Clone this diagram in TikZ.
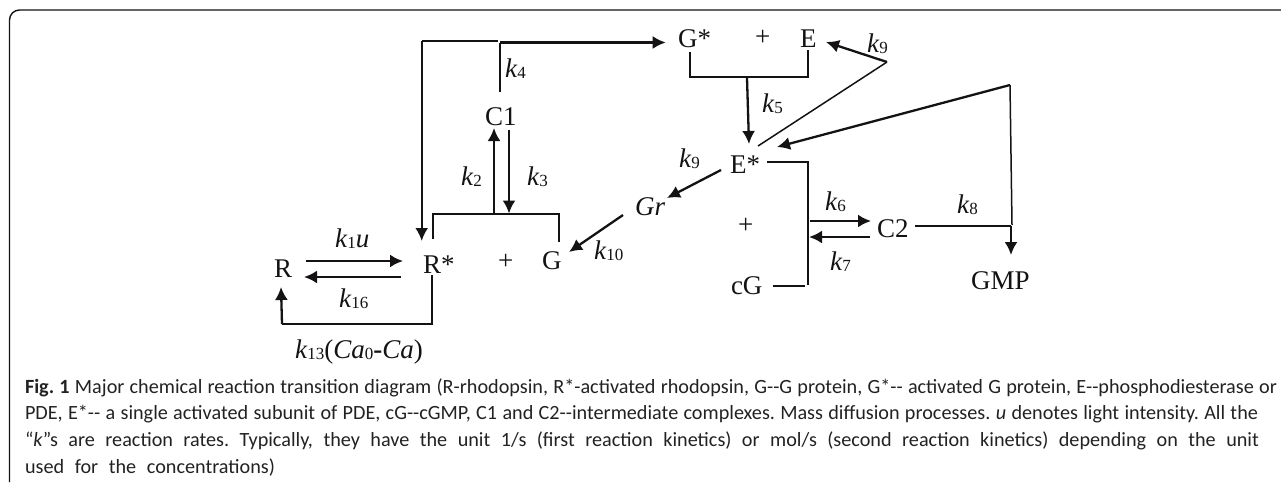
\documentclass[tikz,border=0pt]{standalone}
\usepackage{fontspec}
\setmainfont{Liberation Serif}
\newfontfamily\capf{Carlito}
\usetikzlibrary{arrows.meta}
\definecolor{ink}{HTML}{141213}
\definecolor{captxt}{HTML}{232122}
\newcommand{\subf}[1]{{\fontsize{17}{17}\selectfont\raisebox{-1.5pt}{#1}}}
\newcommand{\kk}[1]{\textit{k}\subf{#1}}
\frenchspacing
\tikzset{
  x=1pt,y=-1pt,
  lbl/.style={inner sep=0pt,outer sep=0pt,anchor=base west,text=ink,font=\fontsize{27}{27}\selectfont},
  capline/.style={inner sep=0pt,outer sep=0pt,anchor=base west,text=captxt,font=\capf\fontsize{20.2}{20.2}\selectfont},
  thin line/.style={draw=ink,line width=1.5pt},
  thick line/.style={draw=ink,line width=2pt},
  arrowline/.style={draw=ink,line width=2.3pt,-{Latex[length=13pt,width=13pt]}},
  frame line/.style={draw=ink,line width=1.4pt,rounded corners=10pt},
}
\begin{document}
\begin{tikzpicture}
\useasboundingbox (0,0) rectangle (1281,483);
% frame
\coordinate (fbl) at (9.5,482);
\coordinate (ftl) at (9.5,10);
\coordinate (ftr) at (1281,10);
\draw[frame line] (fbl) -- (ftl) -- (ftr);
% species
\node[lbl] (R) at (274,277) {R};
\node[lbl] (Rs) at (423,273) {R*};
\node[lbl] (plusA) at (498,269) {+};
\node[lbl] (G) at (542,269) {G};
\node[lbl] (Gr) at (635,215) {\textit{Gr}};
\node[lbl] (Es) at (730,173) {E*};
\node[lbl] (plusB) at (738,233) {+};
\node[lbl] (cG) at (731,294) {cG};
\node[lbl] (C2) at (877,237) {C2};
\node[lbl] (GMP) at (971,289) {GMP};
\node[lbl] (Gs) at (678,47) {G*};
\node[lbl] (plusC) at (755,45) {+};
\node[lbl] (E) at (800,47) {E};
\node[lbl] (C1) at (485,125) {C1};
% rates
\node[lbl] (k4) at (505,77) {\kk{4}};
\node[lbl] (k2) at (461,185) {\kk{2}};
\node[lbl] (k3) at (527,185) {\kk{3}};
\node[lbl] (k1u) at (335,247) {\kk{1}\textit{u}};
\node[lbl] (k16) at (339,307) {\kk{16}};
\node[lbl] (k13) at (295,358) {\kk{13}(\textit{Ca}\subf{0}\textbf{-}\textit{Ca})};
\node[lbl] (k10) at (594,259) {\kk{10}};
\node[lbl] (k9a) at (679,167) {\kk{9}};
\node[lbl] (k9b) at (867,52) {\kk{9}};
\node[lbl] (k5) at (762,112) {\kk{5}};
\node[lbl] (k6) at (825,210) {\kk{6}};
\node[lbl] (k7) at (830,270) {\kk{7}};
\node[lbl] (k8) at (957,213) {\kk{8}};
% connector anchors
\coordinate (a1) at (421.7,40.7);
\coordinate (a2) at (498,40.7);
\coordinate (a3) at (421.7,241);
\coordinate (b1) at (500,92);
\coordinate (b2) at (500,42.5);
\coordinate (b3) at (665.7,42.5);
\coordinate (c1) at (494,213);
\coordinate (c2) at (494,128);
\coordinate (d1) at (509,130);
\coordinate (d2) at (509,213.5);
\coordinate (e1) at (433,239);
\coordinate (e2) at (433,214);
\coordinate (e3) at (559,214);
\coordinate (e4) at (559,242);
\coordinate (f1) at (432,275);
\coordinate (f2) at (432,324);
\coordinate (f3) at (282,324);
\coordinate (f4) at (281,287);
\coordinate (g1) at (306,261);
\coordinate (g2) at (403,261);
\coordinate (h1) at (401,277);
\coordinate (h2) at (304,277);
\coordinate (i1) at (623,215);
\coordinate (i2) at (569,252);
\coordinate (j1) at (721,170);
\coordinate (j2) at (667,198);
\coordinate (l1) at (690,52);
\coordinate (l2) at (690,77);
\coordinate (l3) at (808,77);
\coordinate (l4) at (808,50);
\coordinate (m1) at (747,78);
\coordinate (m2) at (749,144);
\coordinate (n1) at (758,146);
\coordinate (n2) at (887,62);
\coordinate (n3) at (826,42);
\coordinate (o1) at (1012,225);
\coordinate (o2) at (1010,85);
\coordinate (o3) at (777,147);
\coordinate (p1) at (915,226);
\coordinate (p2) at (1011,226);
\coordinate (p3) at (1011,255);
\coordinate (q1) at (767,162);
\coordinate (q2) at (808,162);
\coordinate (q3) at (808,285);
\coordinate (r1) at (773,286);
\coordinate (r2) at (805,286);
\coordinate (s1) at (810,221);
\coordinate (s2) at (871,221);
\coordinate (t1) at (870,237);
\coordinate (t2) at (809,237);
% connectors
\draw[thick line] (a2) -- (a1);
\draw[arrowline] (a1) -- (a3);
\draw[thin line] (b1) -- (b2);
\draw[arrowline] (b2) -- (b3);
\draw[arrowline] (c1) -- (c2);
\draw[arrowline] (d1) -- (d2);
\draw[thin line] (e1) -- (e2) -- (e3) -- (e4);
\draw[thin line] (f1) -- (f2) -- (f3);
\draw[arrowline] (f3) -- (f4);
\draw[arrowline] (g1) -- (g2);
\draw[arrowline] (h1) -- (h2);
\draw[arrowline] (i1) -- (i2);
\draw[arrowline] (j1) -- (j2);
\draw[thin line] (l1) -- (l2) -- (l3) -- (l4);
\draw[arrowline] (m1) -- (m2);
\draw[thin line] (n1) -- (n2);
\draw[arrowline] (n2) -- (n3);
\draw[thin line] (o1) -- (o2);
\draw[arrowline] (o2) -- (o3);
\draw[thin line] (p1) -- (p2);
\draw[arrowline] (p2) -- (p3);
\draw[thick line] (q1) -- (q2) -- (q3);
\draw[thin line] (r1) -- (r2);
\draw[arrowline] (s1) -- (s2);
\draw[arrowline] (t1) -- (t2);
% caption
\node[capline] (cap1) at (25,393) {\makebox[1252pt][s]{\textbf{Fig. 1} Major chemical reaction transition diagram (R-rhodopsin, R*-activated rhodopsin, G-{}-G protein, G*-{}- activated G protein, E-{}-phosphodiesterase or}};
\node[capline] (cap2) at (25,419.5) {\makebox[1233pt][s]{PDE, E*-{}- a single activated subunit of PDE, cG-{}-cGMP, C1 and C2-{}-intermediate complexes. Mass diffusion processes. \textit{u} denotes light intensity. All the}};
\node[capline] (cap3) at (25,446) {\makebox[1234pt][s]{“\textit{k}”s are reaction rates. Typically, they have the unit 1/s (first reaction kinetics) or mol/s (second reaction kinetics) depending on the unit}};
\node[capline] (cap4) at (25,473) {\makebox[250pt][s]{used for the concentrations)}};
\end{tikzpicture}
\end{document}
